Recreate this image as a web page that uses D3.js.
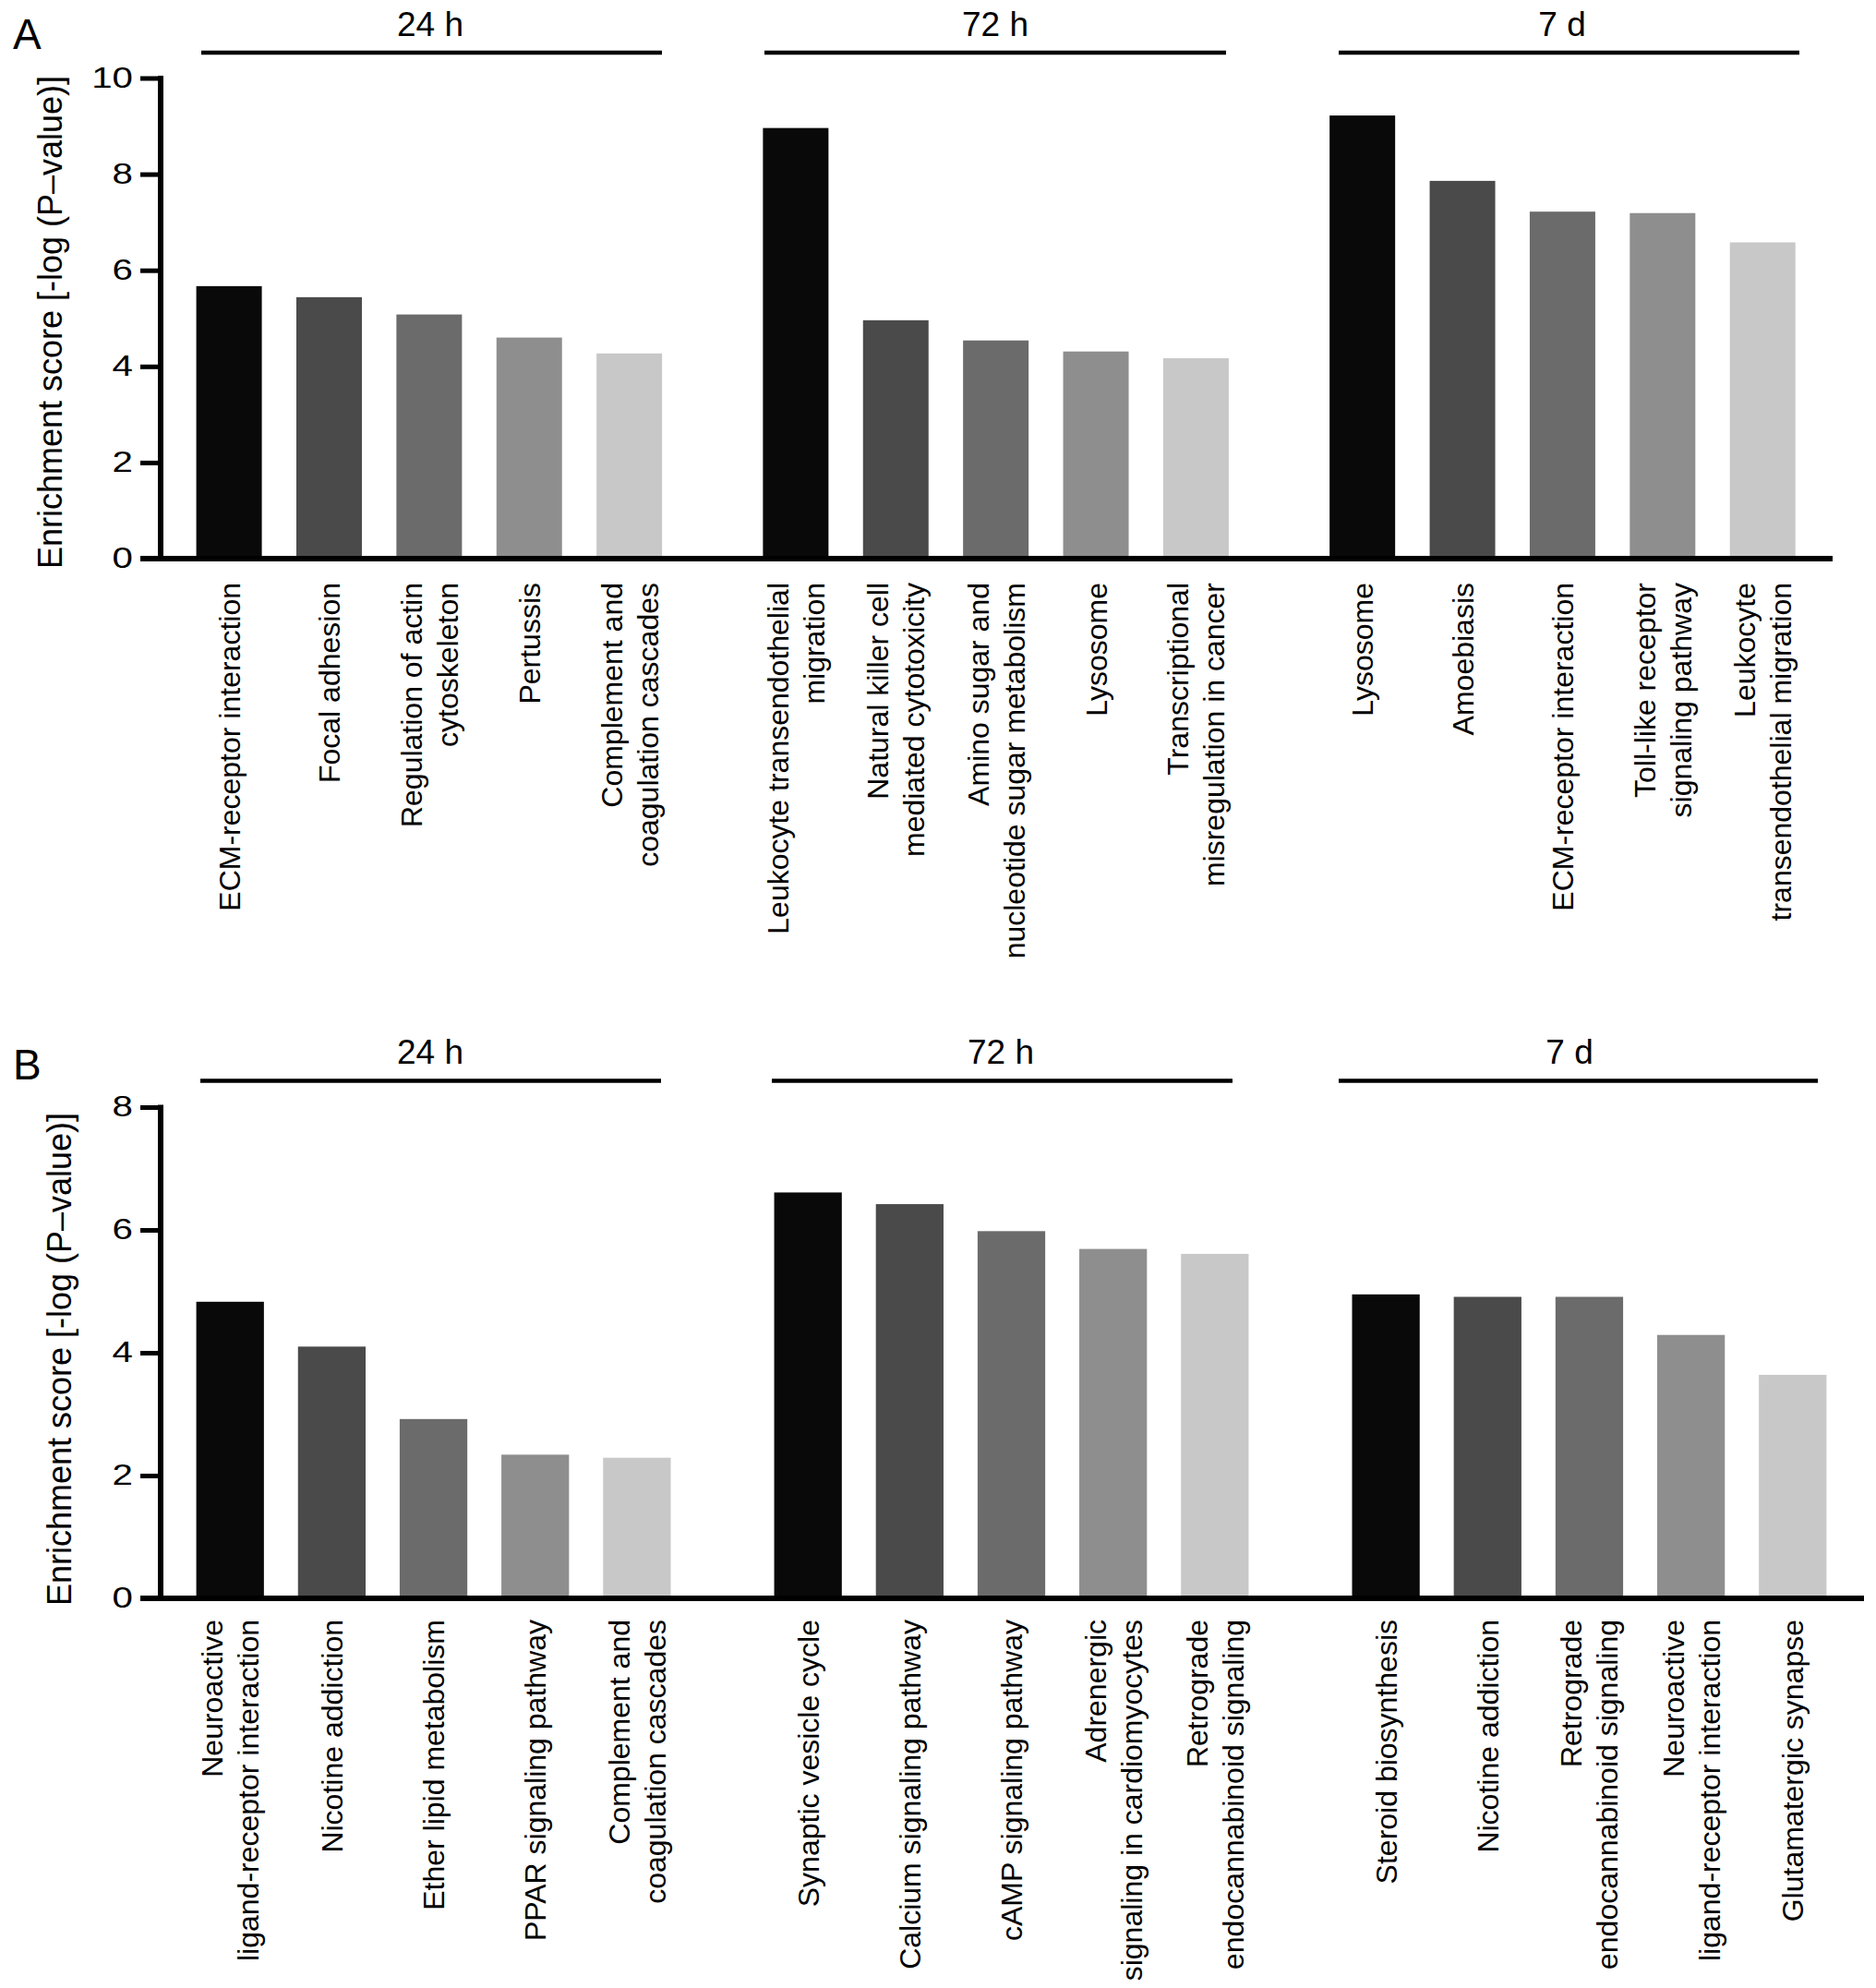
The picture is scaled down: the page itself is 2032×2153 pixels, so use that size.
<!DOCTYPE html>
<html>
<head>
<meta charset="utf-8">
<script src="https://cdn.jsdelivr.net/npm/d3@7"></script>
<style>
  html, body { margin: 0; padding: 0; background: #fff; }
  svg { display: block; }
  text { font-family: "Liberation Sans", Arial, Helvetica, sans-serif; fill: #000; }
</style>
</head>
<body>
<svg id="chart" width="2032" height="2153"></svg>
<script>
// ---------- DATA ----------
const groups = ["24 h", "72 h", "7 d"];
const shades = ["#090909", "#4a4a4a", "#6b6b6b", "#8e8e8e", "#c8c8c8"];

const aLabels24 = ["ECM-receptor interaction", "Focal adhesion", "Regulation of actin|cytoskeleton", "Pertussis", "Complement and|coagulation cascades"];
const aLabels72 = ["Leukocyte transendothelial|migration", "Natural killer cell|mediated cytotoxicity", "Amino sugar and|nucleotide sugar metabolism", "Lysosome", "Transcriptional|misregulation in cancer"];
const aLabels7d = ["Lysosome", "Amoebiasis", "ECM-receptor interaction", "Toll-like receptor|signaling pathway", "Leukocyte|transendothelial migration"];
const aValues24 = [5.67, 5.44, 5.08, 4.60, 4.27];
const aValues72 = [8.96, 4.96, 4.54, 4.31, 4.17];
const aValues7d = [9.22, 7.86, 7.22, 7.19, 6.58];
const aTicks = [0, 2, 4, 6, 8, 10];

const bLabels24 = ["Neuroactive|ligand-receptor interaction", "Nicotine addiction", "Ether lipid metabolism", "PPAR signaling pathway", "Complement and|coagulation cascades"];
const bLabels72 = ["Synaptic vesicle cycle", "Calcium signaling pathway", "cAMP signaling pathway", "Adrenergic|signaling in cardiomyocytes", "Retrograde|endocannabinoid signaling"];
const bLabels7d = ["Steroid biosynthesis", "Nicotine addiction", "Retrograde|endocannabinoid signaling", "Neuroactive|ligand-receptor interaction", "Glutamatergic synapse"];
const bValues24 = [4.83, 4.10, 2.92, 2.34, 2.29];
const bValues72 = [6.61, 6.42, 5.98, 5.69, 5.61];
const bValues7d = [4.95, 4.91, 4.91, 4.29, 3.64];
const bTicks = [0, 2, 4, 6, 8];

const yTitle = "Enrichment score [-log (P\u2013value)]";

// ---------- DRAW ----------
const svg = d3.select("#chart");

function panel(cfg) {
  const g = svg.append("g");
  const data = groups.map((grp, gi) => ({
    group: grp,
    span: cfg.hdrSpans[gi],
    items: cfg.labels[gi].map((lab, i) => ({ label: lab, value: cfg.values[gi][i], idx: i }))
  }));

  const y = d3.scaleLinear().domain([0, cfg.yMax]).range([cfg.y0, cfg.yTop]);
  const xo = d3.scaleBand().domain(groups).range(cfg.xRange).paddingInner(cfg.outerPad).paddingOuter(0);
  const xi = d3.scaleBand().domain(d3.range(5)).range([0, xo.bandwidth()]).paddingInner(cfg.innerPad).paddingOuter(0);

  // panel letter
  g.append("text").attr("x", 14).attr("y", cfg.letterY)
    .style("font-size", "46px").text(cfg.letter);

  // group headers
  const hdr = g.selectAll(".hdr").data(data).enter().append("g");
  hdr.append("line")
    .attr("x1", d => d.span[0]).attr("x2", d => d.span[1])
    .attr("y1", cfg.hdrLineY).attr("y2", cfg.hdrLineY)
    .attr("stroke", "#000").attr("stroke-width", 4.5);
  hdr.append("text")
    .attr("x", d => d.span[2])
    .attr("y", cfg.hdrTextY)
    .attr("text-anchor", "middle")
    .style("font-size", "37px")
    .text(d => d.group);

  // bars
  const gg = g.selectAll(".grp").data(data).enter().append("g")
    .attr("transform", d => `translate(${xo(d.group)},0)`);
  gg.selectAll("rect").data(d => d.items).enter().append("rect")
    .attr("x", d => xi(d.idx))
    .attr("width", xi.bandwidth())
    .attr("y", d => y(d.value))
    .attr("height", d => y(0) - y(d.value))
    .attr("fill", d => shades[d.idx]);

  // category labels (rotated, right-aligned at top)
  const fs = 32, lh = 39;
  gg.selectAll(".lab").data(d => d.items).enter().append("text")
    .attr("transform", d => `translate(${xi(d.idx) + xi.bandwidth() / 2},${cfg.labelTop}) rotate(-90)`)
    .attr("text-anchor", "end")
    .style("font-size", fs + "px")
    .each(function (d) {
      const lines = d.label.split("|");
      const n = lines.length;
      const t = d3.select(this);
      lines.forEach((ln, k) => {
        const off = (k - (n - 1) / 2) * lh + fs * 0.36;
        t.append("tspan").attr("x", 0).attr("y", off).text(ln);
      });
    });

  // y axis
  const ax = d3.axisLeft(y).tickValues(cfg.ticks).tickSize(22).tickPadding(8).tickFormat(d3.format("d"));
  const axg = g.append("g").attr("transform", `translate(${cfg.axisX},0)`).call(ax);
  axg.select(".domain").remove();
  axg.selectAll(".tick line").attr("stroke", "#000").attr("stroke-width", 5);
  axg.selectAll(".tick text")
    .style("font-size", "31px")
    .style("font-family", '"Liberation Sans", Arial, sans-serif')
    .attr("fill", "#000")
    .each(function () {
      const t = d3.select(this);
      const x = +t.attr("x");
      t.attr("x", 0).attr("transform", `translate(${x},0) scale(1.3,1)`);
    });
  g.append("line").attr("x1", cfg.axisX).attr("x2", cfg.axisX)
    .attr("y1", y(cfg.yMax) - 2.5).attr("y2", y(0))
    .attr("stroke", "#000").attr("stroke-width", 6);
  // baseline
  g.append("line").attr("x1", cfg.axisX - 22).attr("x2", cfg.baseEnd)
    .attr("y1", y(0)).attr("y2", y(0))
    .attr("stroke", "#000").attr("stroke-width", 6);

  // y title
  g.append("text")
    .attr("transform", `translate(${cfg.titleX},${cfg.titleY}) rotate(-90)`)
    .attr("text-anchor", "middle")
    .style("font-size", "36px")
    .text(yTitle);
}

panel({
  letter: "A", letterY: 53,
  labels: [aLabels24, aLabels72, aLabels7d],
  values: [aValues24, aValues72, aValues7d],
  ticks: aTicks, yMax: 10,
  y0: 605, yTop: 84.5,
  xRange: [212.6, 1944.7], outerPad: 0.178, innerPad: 0.345,
  axisX: 174, baseEnd: 1985,
  hdrLineY: 57, hdrTextY: 39,
  hdrSpans: [[218, 717, 466], [828, 1328, 1078], [1450, 1949, 1692]],
  labelTop: 631,
  titleX: 66.5, titleY: 349
});

panel({
  letter: "B", letterY: 1169,
  labels: [bLabels24, bLabels72, bLabels7d],
  values: [bValues24, bValues72, bValues7d],
  ticks: bTicks, yMax: 8,
  y0: 1731, yTop: 1199,
  xRange: [212.6, 1978.4], outerPad: 0.179, innerPad: 0.335,
  axisX: 174, baseEnd: 2019,
  hdrLineY: 1170.5, hdrTextY: 1152,
  hdrSpans: [[217, 716, 466], [836, 1335, 1084], [1450, 1969, 1700]],
  labelTop: 1754,
  titleX: 77, titleY: 1472
});
</script>
</body>
</html>
